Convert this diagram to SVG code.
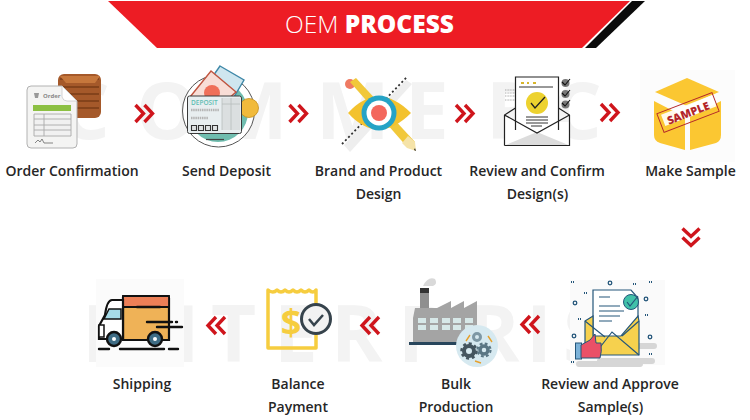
<svg xmlns="http://www.w3.org/2000/svg" width="750" height="420" viewBox="0 0 750 420">
<style>
.lbl{font-family:"Open Sans","Noto Sans",sans-serif;font-size:14px;font-weight:600;fill:#262626;text-anchor:middle}
.wm{font-family:"Open Sans","Liberation Sans",sans-serif;font-size:78px;font-weight:700;fill:#f3f3f3;text-anchor:start}
.chev{fill:none;stroke:#cf151c;stroke-width:3.4;stroke-linejoin:miter}
.tiny{font-family:"Open Sans","Liberation Sans",sans-serif}
.k{fill:none;stroke:#111;stroke-width:2.4;stroke-linecap:round;stroke-linejoin:round}
</style>
<defs>
<g id="chevR"><path class="chev" d="M-8-8.500 0 0-8 8.500M1-8.500 9 0 1 8.500"/></g>
</defs>
<rect width="750" height="420" fill="#fff"/>
<g id="watermark">
<text class="wm" x="60" y="139">C</text><text class="wm" x="136" y="139">O</text><text class="wm" x="214" y="139">M</text><text class="wm" x="316" y="139">M</text><text class="wm" x="405" y="139">E</text><text class="wm" x="486" y="139">R</text><text class="wm" x="552" y="139">C</text><text class="wm" x="636" y="139">E</text>
<text class="wm" x="82" y="362">E</text><text class="wm" x="136" y="362">N</text><text class="wm" x="211" y="362">T</text><text class="wm" x="274" y="362">E</text><text class="wm" x="331" y="362">R</text><text class="wm" x="398" y="362">P</text><text class="wm" x="468" y="362">R</text><text class="wm" x="526" y="362">I</text><text class="wm" x="563" y="362">S</text><text class="wm" x="622" y="362">E</text>
</g>
<g id="banner">
<path d="M108 1H630L582 48H157Z" fill="#ed1c24"/>
<path d="M632 1H645L596 48H585Z" fill="#0b0b0b"/>
<text x="285" y="33" font-family="'Open Sans',sans-serif" font-size="24.500" fill="#fff" font-weight="300">OEM <tspan font-weight="800">PROCESS</tspan></text>
</g>
<g id="connectors">
<use href="#chevR" x="143.500" y="113.500"/>
<use href="#chevR" x="297.500" y="113.500"/>
<use href="#chevR" x="464" y="113.500"/>
<use href="#chevR" x="609" y="112.500"/>
<use href="#chevR" transform="translate(691 236.500) rotate(90)"/>
<use href="#chevR" transform="translate(531 324.500) rotate(180)"/>
<use href="#chevR" transform="translate(371 325.500) rotate(180)"/>
<use href="#chevR" transform="translate(217 325.500) rotate(180)"/>
</g>
<g id="order-confirmation">
<rect x="58" y="74" width="43" height="44" rx="6" fill="#a5592a"/>
<path d="M60 79H99M62 87H99M62 94H99M62 101H99M62 108H99" stroke="#7a3c17" stroke-width="1.500"/>
<path d="M60 76 66 83H95L100 76" fill="#c6773c"/>
<path d="M31 86H62L77 101V144Q77 148 73 148H31Q27 148 27 144V90Q27 86 31 86Z" fill="#f4f4f3" stroke="#b2b2b2" stroke-width="1"/>
<path d="M62 86V97Q63 101 67 101H77Z" fill="#fff" stroke="#c9c9c9" stroke-width=".8"/>
<text class="tiny" x="43" y="98" font-size="6" font-weight="700" fill="#888">Order</text>
<path d="M34 93H39L38 98H35Z" fill="#999"/>
<rect x="33" y="105" width="38" height="6" fill="#8cc043"/>
<path d="M34 114H71V136H34ZM34 119H71M34 125H71M34 130H71M44 114V136" fill="#f1f1f1" stroke="#a9a9a9" stroke-width=".9"/>
<path d="M35 143 38 140 40 142 42 139 44 143H53" fill="none" stroke="#555" stroke-width=".7"/>
<text class="lbl" x="72" y="176">Order Confirmation</text>
</g>
<g id="send-deposit">
<circle cx="218.500" cy="111" r="36" fill="#fff" stroke="#555" stroke-width="1"/>
<circle cx="218" cy="112" r="30" fill="#6fbdaf"/>
<path d="M220 66 244 80 231 102 206 86Z" fill="#cfe6ef" stroke="#3f88a8" stroke-width="1.400"/>
<path d="M190 97 211 71 236 92 218 108Z" fill="#f8ddd6" stroke="#c0543f" stroke-width="1.400"/>
<circle cx="212" cy="93" r="8" fill="#ef6f59"/>
<circle cx="249" cy="108" r="9.500" fill="#f1ba3b" stroke="#c48e1c" stroke-width=".8"/>
<rect x="187.500" y="96" width="54" height="37.500" rx="2" fill="#e8eef0" stroke="#3a3a3a" stroke-width="1"/>
<path d="M222 98H240V130H222Z" fill="#dbdfe0"/><path d="M222 98V130M231 98V130M222 104H240" stroke="#b8bcbd" stroke-width=".8"/>
<text class="tiny" x="191" y="105" font-size="6.500" font-weight="600" fill="#5fbdb3">DEPOSIT</text>
<path d="M191 110H219M191 118H208" stroke="#b5b5b5" stroke-width="2.500" stroke-dasharray="1.500 .7"/>
<path d="M191.500 125.500h5v5h-5zM198.500 125.500h5v5h-5zM205.500 125.500h5v5h-5zM212.500 125.500h5v5h-5z" fill="#dfe3e4" stroke="#333" stroke-width="1.100"/>
<path d="M206 139.500H224" stroke="#444" stroke-width="1.200"/>
<text class="lbl" x="226.500" y="176">Send Deposit</text>
</g>
<g id="brand-product-design">
<path d="M344 145 406 80 412 84 350 152Z" fill="#eeeeee"/>
<path d="M342 144 407 77" stroke="#333" stroke-width="1.800" stroke-dasharray="2 2.500" fill="none"/>
<circle cx="350" cy="84" r="5" fill="#ef7a63"/>
<path d="M350 82 356 78 415 142 408 148Z" fill="#f1c83a"/>
<path d="M408 136 415 142 416 151 407 148 402 143Z" fill="#f5e3a8"/>
<path d="M414 150 416 151 415 148Z" fill="#222"/>
<path d="M348 113Q378 80 411 113Q378 146 348 113Z" fill="#f3c22e"/>
<circle cx="379" cy="113" r="17.500" fill="#25a3c6"/>
<circle cx="379" cy="113" r="12.500" fill="#fff"/>
<circle cx="379" cy="113" r="8" fill="#f3675d"/>
<text class="lbl" x="378.500" y="176">Brand and Product</text>
<text class="lbl" x="378.500" y="199">Design</text>
</g>
<g id="review-confirm-design">
<path d="M505 90H521M505 93H521M505 96H521M505 100H521" stroke="#888" stroke-width=".7" stroke-dasharray="1 .6"/>
<path d="M504.500 122H569.500V145.500H504.500Z" fill="#fff"/>
<path d="M504.500 145.500 537 132 569.500 145.500Z" fill="#dcdcdc"/>
<path d="M515.500 130V77H558.500V130" fill="#fff" stroke="#222" stroke-width="1.200"/>
<path d="M504.500 145.500V115L515.500 108M558.500 108 569.500 115V145.500H504.500M504.500 115 537 133 569.500 115" fill="none" stroke="#222" stroke-width="1.200"/>
<path d="M519 87H553" stroke="#333" stroke-width="1"/>
<path d="M521 83h3M527 83h2M533 83h3" stroke="#d8b62c" stroke-width="2"/>
<circle cx="537" cy="103" r="11" fill="#edd22f"/>
<path d="M531 103 535 108 545 97" fill="none" stroke="#222" stroke-width="1.300"/>
<path d="M526 117H548M526 120H548M526 123H548M531 126H542" stroke="#333" stroke-width="1"/>
<g fill="#777"><circle cx="565.500" cy="83" r="4"/><circle cx="565.500" cy="94" r="4"/><circle cx="565.500" cy="104.500" r="4"/></g>
<path d="M562 82 565 85 570 79M562 93 565 96 570 90M562 103 565 106 570 100" fill="none" stroke="#111" stroke-width="1.100"/>
<text class="lbl" x="537" y="176">Review and Confirm</text>
<text class="lbl" x="537.500" y="199">Design(s)</text>
</g>
<g id="make-sample">
<rect x="640" y="70" width="95" height="92" fill="#fcfcfc"/>
<path d="M655 92 687 78 719 92 687 106Z" fill="#fbc732"/>
<path d="M654 101 685 117V150L660 143Q654 141 654 135Z" fill="#fbc732"/>
<path d="M690 117 721 101V135Q721 141 716 143L690 150Z" fill="#fbc732"/>
<g transform="rotate(-21 688 112.500)">
<rect x="662" y="105" width="55" height="12" fill="#fff" opacity=".9"/>
<rect x="658.500" y="102.500" width="59" height="20" fill="none" stroke="#b3262a" stroke-width=".9"/>
<text class="tiny" x="688" y="117" font-size="11" font-weight="800" fill="#b3262a" text-anchor="middle">SAMPLE</text>
</g>
<text class="lbl" x="690.500" y="176">Make Sample</text>
</g>
<g id="review-approve-sample">
<rect x="570" y="280" width="95" height="85" fill="#fafafa"/>
<path d="M579 364H640M600 361H652M640 346H654" stroke="#d6d6d6" stroke-width="6" stroke-linecap="round"/>
<path d="M593 290H631L638 298V345H593Z" fill="#fff" stroke="#24567a" stroke-width="1.200"/>
<path d="M599 297H610M599 306H620M599 311H624M599 316H620M599 321H612" stroke="#24567a" stroke-width="1.200"/>
<circle cx="631" cy="302" r="7.500" fill="#41c1a9" stroke="#24567a"/>
<path d="M627 302 630 306 638 296" fill="none" stroke="#24567a" stroke-width="1.200"/>
<path d="M585 321 593 316V336L621 336 638 316 639 321 639 355H585Z" fill="#f6d14e" stroke="#24567a" stroke-width="1.200"/>
<path d="M585 321 605 337M639 321 622 336M594 355 612 332 639 355" fill="none" stroke="#24567a" stroke-width="1.200"/>
<rect x="575.500" y="343" width="6" height="16" fill="#7cb2d8" stroke="#24567a"/>
<path d="M581 345 590 340 595 334 596 343H601Q602 352 600 358H581Z" fill="#ea5067" stroke="#24567a"/>
<g fill="none" stroke="#24567a" stroke-width="1.300"><circle cx="610" cy="283" r="1.800"/><circle cx="575" cy="303" r="1.800"/><circle cx="646" cy="299" r="1.800"/><circle cx="574" cy="336" r="1.800"/><circle cx="650" cy="337" r="1.800"/></g>
<path d="M571 282h3M584 293h3M633 284h3M649 282h3M578 319h3M645 315h3M649 354h3M571 362h3" stroke="#24567a" stroke-width="2" stroke-dasharray="1 1"/>
<text class="lbl" x="610" y="389">Review and Approve</text>
<text class="lbl" x="610.500" y="412">Sample(s)</text>
</g>
<g id="bulk-production">
<path d="M423 286 Q428 276 435 279 Q438 284 433 286Z" fill="#d9d9d9"/>
<path d="M420 288H429V310H420Z" fill="#8f8f8f"/><path d="M420 288H429V293H420Z" fill="#333"/>
<path d="M413 345V318L415 308 437 308 451 301V308L464 301V308L477 301V345Z" fill="#a4a4a4"/>
<path d="M418 318h8v5h-8zM430 318h8v5h-8zM442 318h8v5h-8zM453 318h8v5h-8zM465 318h8v5h-8zM418 325h8v5h-8zM430 325h8v5h-8zM442 325h8v5h-8zM453 325h8v5h-8zM465 325h8v5h-8z" fill="#d7e8e8"/>
<rect x="409" y="342" width="50" height="3" fill="#28465c"/>
<circle cx="477" cy="346" r="21" fill="#d6e9f0"/>
<circle cx="469" cy="351" r="5" fill="none" stroke="#44555f" stroke-width="4"/>
<circle cx="469" cy="351" r="7.500" fill="none" stroke="#44555f" stroke-width="2.500" stroke-dasharray="3 2.800"/>
<circle cx="484" cy="350" r="4" fill="none" stroke="#5a7684" stroke-width="3.500"/>
<circle cx="484" cy="350" r="6.500" fill="none" stroke="#5a7684" stroke-width="2.200" stroke-dasharray="2.800 2.300"/>
<circle cx="477" cy="337" r="3.500" fill="none" stroke="#7e98a5" stroke-width="3"/>
<path d="M466 341 470 335M488 336 492 342M481 363 475 361" stroke="#e5a02c" stroke-width="1.400"/>
<text class="lbl" x="456" y="389">Bulk</text>
<text class="lbl" x="456" y="412">Production</text>
</g>
<g id="balance-payment">
<path d="M268 290Q273 294 277 290Q281 294 285 290Q289 294 293 290Q297 294 301 290Q305 294 309 290Q313 294 316 290V348H268Z" fill="none" stroke="#f6cd3f" stroke-width="3.500" stroke-linejoin="round"/>
<text class="tiny" x="291" y="335" font-size="36" font-weight="700" fill="#f6cd3f" text-anchor="middle">$</text>
<circle cx="316" cy="319" r="14.500" fill="#f2f2f2" stroke="#36434c" stroke-width="3"/>
<path d="M309 319 314 325 323 315" fill="none" stroke="#36434c" stroke-width="2.500"/>
<text class="lbl" x="298" y="389">Balance</text>
<text class="lbl" x="298" y="412">Payment</text>
</g>
<g id="shipping">
<rect x="96" y="279" width="88" height="88" fill="#fbfbfb"/>
<path d="M123 297Q123 296 125 296H167Q169 296 169 298V340H123Z" fill="#efb257" stroke="#111" stroke-width="2.200"/>
<path d="M123 296H169V307H123Z" fill="#ec7f57" stroke="#111" stroke-width="1.800"/>
<path d="M99 338V326L105 315Q107 300 112 300H123V339H99Z" fill="#fff" stroke="#111" stroke-width="2.200"/>
<path d="M104 319 109 309H121V319Z" fill="#a6dbe8" stroke="#111" stroke-width="1.500"/>
<path d="M99 325H104V337H99Z" fill="#fff" stroke="#111" stroke-width="1.500"/>
<circle cx="114" cy="339" r="7" fill="#3f6d85" stroke="#111" stroke-width="2.400"/><circle cx="114" cy="339" r="2" fill="#fff"/>
<circle cx="155" cy="339" r="7" fill="#3f6d85" stroke="#111" stroke-width="2.400"/><circle cx="155" cy="339" r="2" fill="#fff"/>
<path class="k" d="M137 307H160M147 322H172M176 322H177M157 327H182M99 349H109M120 349H164M169 349H178"/>
<text class="lbl" x="142" y="389">Shipping</text>
</g>
</svg>
